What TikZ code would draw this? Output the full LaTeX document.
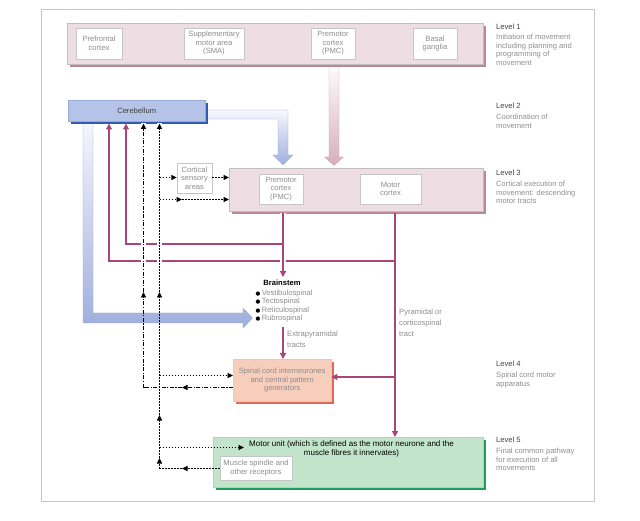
\documentclass[tikz,border=0pt]{standalone}
\usepackage{fontspec}
\setmainfont{Liberation Sans}
\newfontfamily\dejavu{DejaVu Sans}
\usetikzlibrary{arrows.meta,shadows,calc}
\definecolor{pinkfill}{HTML}{EEDDE3}
\definecolor{pinkshadow}{HTML}{B9869A}
\definecolor{bluefill}{HTML}{B5C3E8}
\definecolor{blueshadow}{HTML}{2F5CAE}
\definecolor{salmonfill}{HTML}{F7CDBB}
\definecolor{salmonshadow}{HTML}{E06A55}
\definecolor{greenfill}{HTML}{C2E4CA}
\definecolor{greenshadow}{HTML}{1E9E5A}
\definecolor{redline}{HTML}{A8457A}
\definecolor{txtgray}{HTML}{8E8E8E}
\definecolor{txtdark}{HTML}{404040}
\definecolor{bluearrow}{HTML}{9FAEDC}
\definecolor{pinkarrow}{HTML}{D7AEBD}
\newcommand{\bdot}{{\color{black}\dejavu\fontsize{5.5}{8.5}\selectfont ●}}
\tikzset{
  boxpink/.style={draw=gray!50, fill=pinkfill, anchor=north west, inner sep=0pt, line width=0.4pt,
    drop shadow={shadow xshift=2.5pt, shadow yshift=-2.5pt, fill=pinkshadow, opacity=1}},
  boxblue/.style={draw=blueshadow!50, fill=bluefill, anchor=north west, inner sep=0pt, line width=0.4pt, text=txtdark,
    drop shadow={shadow xshift=2.5pt, shadow yshift=-2.5pt, fill=blueshadow, opacity=1}},
  boxsalmon/.style={draw=salmonshadow!40, fill=salmonfill, anchor=north west, inner sep=0pt, line width=0.4pt, text=txtgray, align=center,
    drop shadow={shadow xshift=2.5pt, shadow yshift=-2.5pt, fill=salmonshadow, opacity=1}},
  boxgreen/.style={draw=greenshadow!40, fill=greenfill, anchor=north west, inner sep=0pt, line width=0.4pt,
    drop shadow={shadow xshift=2.5pt, shadow yshift=-2.5pt, fill=greenshadow, opacity=1}},
  ibox/.style={draw=gray!45, fill=white, text=txtgray, align=center, inner sep=0pt, line width=0.4pt},
  lvl/.style={anchor=north west, align=left, inner sep=0pt, text=txtgray},
  rl/.style={draw=redline, line width=1.3pt},
  rtip/.style={-{Triangle[width=6pt,length=6pt]}},
  btip/.style={-{Triangle[width=5pt,length=5.5pt]}},
  mydot/.style={draw=black, line width=0.9pt, dash pattern=on 1.8pt off 1.2pt},
  mydd/.style={draw=black, line width=0.9pt, dash pattern=on 4pt off 1.5pt on 1.2pt off 1.5pt},
  wgap/.style={preaction={draw=white, line width=5pt, solid, -}}
}
\begin{document}
\begin{tikzpicture}[x=1pt,y=-1pt, every node/.style={font=\fontsize{7.6}{8.5}\selectfont}]
\useasboundingbox (0,0) rectangle (640,521);
\draw[gray!45, line width=0.6pt] (41,9) rectangle (594,501);

% thick hollow arrows
\shade[top color=blue!3!white, bottom color=bluearrow, draw=bluearrow!85!gray, line width=0.3pt]
  (200,110) -- (288,110) -- (288,155) -- (293,155) -- (283,165) -- (273,155) -- (278,155) -- (278,119) -- (200,119) -- cycle;
\shade[top color=white, bottom color=pinkarrow, draw=pinkarrow!85!gray, line width=0.3pt]
  (329,60) -- (339,60) -- (339,157) -- (343.5,157) -- (334,165.5) -- (324.5,157) -- (329,157) -- cycle;
\shade[top color=blue!3!white, bottom color=bluearrow, draw=bluearrow!85!gray, line width=0.3pt]
  (83,118) -- (93,118) -- (93,313) -- (243,313) -- (243,308) -- (252.5,318) -- (243,328) -- (243,323) -- (83,323) -- cycle;

% Level 1
\node[boxpink, minimum width=416pt, minimum height=41pt] (l1) at (67,23) {};
\node[ibox, minimum width=46pt, minimum height=31pt] (pf) at (99,43.5) {Prefrontal\\cortex};
\node[ibox, minimum width=60pt, minimum height=31pt] (sma) at (214,43.5) {Supplementary\\motor area\\(SMA)};
\node[ibox, minimum width=44pt, minimum height=31pt] (pmc1) at (333,43.5) {Premotor\\cortex\\(PMC)};
\node[ibox, minimum width=44pt, minimum height=31pt] (bg) at (435,43.5) {Basal\\ganglia};

% Cerebellum
\node[boxblue, minimum width=137pt, minimum height=21pt] (cb) at (68,100) {Cerebellum};

% Level 3
\node[boxpink, minimum width=254pt, minimum height=43pt] (l3) at (229,168) {};
\node[ibox, minimum width=44pt, minimum height=30pt] (pmc3) at (281,189) {Premotor\\cortex\\(PMC)};
\node[ibox, minimum width=61pt, minimum height=30pt] (mc) at (390.5,189) {Motor\\cortex};
\node[ibox, minimum width=35pt, minimum height=30pt] (cs) at (194.5,178) {Cortical\\sensory\\areas};

% Brainstem
\node[inner sep=1pt] (bs) at (282,283) {\textbf{Brainstem}};
\node[lvl] (bl) at (255.5,289.5) {\bdot\,Vestibulospinal\\\bdot\,Tectospinal\\\bdot\,Reticulospinal\\\bdot\,Rubrospinal};
\node[lvl] (ex) at (287,331) {Extrapyramidal\\[2.5pt]tracts};
\node[lvl] (py) at (399,309) {Pyramidal or\\[2.5pt]corticospinal\\[2.5pt]tract};

% Spinal cord
\node[boxsalmon, minimum width=98pt, minimum height=42pt] (sp) at (233,359) {Spinal cord interneurones\\and central pattern\\generators};

% Motor unit
\node[boxgreen, minimum width=270pt, minimum height=50pt] (mu) at (213,437) {};
\node[align=center, inner sep=0pt, text=black, font=\fontsize{8}{9}\selectfont] (mut) at (351.5,448.5) {Motor unit (which is defined as the motor neurone and the\\muscle fibres it innervates)};
\node[ibox, minimum width=72pt, minimum height=24pt] (msp) at (256,468) {Muscle spindle and\\other receptors};

% Level texts
\node[lvl] (t1) at (496,24) {{\color{txtdark}Level 1}\\[1.5pt]Initiation of movement\\including planning and\\programming of\\movement};
\node[lvl] (t2) at (496,103) {{\color{txtdark}Level 2}\\[2.5pt]Coordination of\\movement};
\node[lvl] (t3) at (496,170) {{\color{txtdark}Level 3}\\[2.5pt]Cortical execution of\\movement: descending\\motor tracts};
\node[lvl] (t4) at (496,361) {{\color{txtdark}Level 4}\\[2.5pt]Spinal cord motor\\apparatus};
\node[lvl] (t5) at (496,437) {{\color{txtdark}Level 5}\\[2.5pt]Final common pathway\\for execution of all\\movements};

% helper coordinates
\coordinate (xa) at (283,0);
\coordinate (xb) at (395,0);
\coordinate (xc) at (126,0);
\coordinate (xd) at (109,0);
\coordinate (xe) at (143.5,0);
\coordinate (xf) at (159.5,0);
\coordinate (ya) at (0,244);
\coordinate (yb) at (0,261);
\coordinate (ymc) at (0,377);
\coordinate (cbb) at (0,123.5);
\coordinate (l3b) at (0,213.5);
\coordinate (bsl) at (0,327);
\coordinate (bst) at (0,277);

% red connectors
\draw[rl, rtip] (xb |- l3b) -- (mu.north -| xb);
\draw[rl, rtip] (xb |- yb) -- (xd |- yb) -- (xd |- cbb);
\draw[rl, rtip] (xb |- ymc) -- (sp.east |- ymc);
\draw[rl, rtip, preaction={draw=white, line width=6.5pt, -}] (xa |- l3b) -- (xa |- bst);
\draw[rl, rtip] (xa |- ya) -- (xc |- ya) -- (xc |- cbb);
\draw[rl, rtip] (xa |- bsl) -- (sp.north -| xa);

% dash-dot pathway (spinal interneurones -> cerebellum)
\coordinate (dd1) at (182,387.5);
\coordinate (dd2) at (143.5,387.5);
\coordinate (dd3) at (143.5,292);
\draw[mydd, btip] (sp.west |- dd1) -- (dd1);
\draw[mydd] (dd1) -- (dd2);
\draw[mydd, btip] (dd2) -- (dd3);
\draw[mydd, btip, wgap] (dd3) -- (xe |- cbb);

% dotted pathway (receptors -> cerebellum)
\coordinate (d1) at (182,468.5);
\coordinate (d2) at (159.5,468.5);
\coordinate (d3) at (159.5,458);
\coordinate (d4) at (159.5,447.5);
\coordinate (d5) at (159.5,415);
\coordinate (d6) at (159.5,375.5);
\coordinate (d7) at (159.5,292);
\coordinate (d8) at (159.5,199.5);
\coordinate (d9) at (159.5,177.5);
\coordinate (d10) at (182,199.5);
\coordinate (mue) at (244,447.5);
\draw[mydot, btip] (msp.west |- d1) -- (d1);
\draw[mydot] (d1) -- (d2);
\draw[mydot, btip] (d2) -- (d3);
\draw[mydot, btip] (d3) -- (d5);
\draw[mydot, btip] (d5) -- (d7);
\draw[mydot, btip, wgap] (d7) -- (xf |- cbb);
\draw[mydot, btip] (d4) -- (mue);
\draw[mydot, btip] (d6) -- (sp.west |- d6);
\draw[mydot, btip] (d8) -- (d10);
\draw[mydot, btip] (d10) -- (l3.west |- d8);
\draw[mydot, btip] (d9) -- (cs.west |- d9);
\draw[mydot, btip] (cs.east |- d9) -- (l3.west |- d9);
\end{tikzpicture}
\end{document}
